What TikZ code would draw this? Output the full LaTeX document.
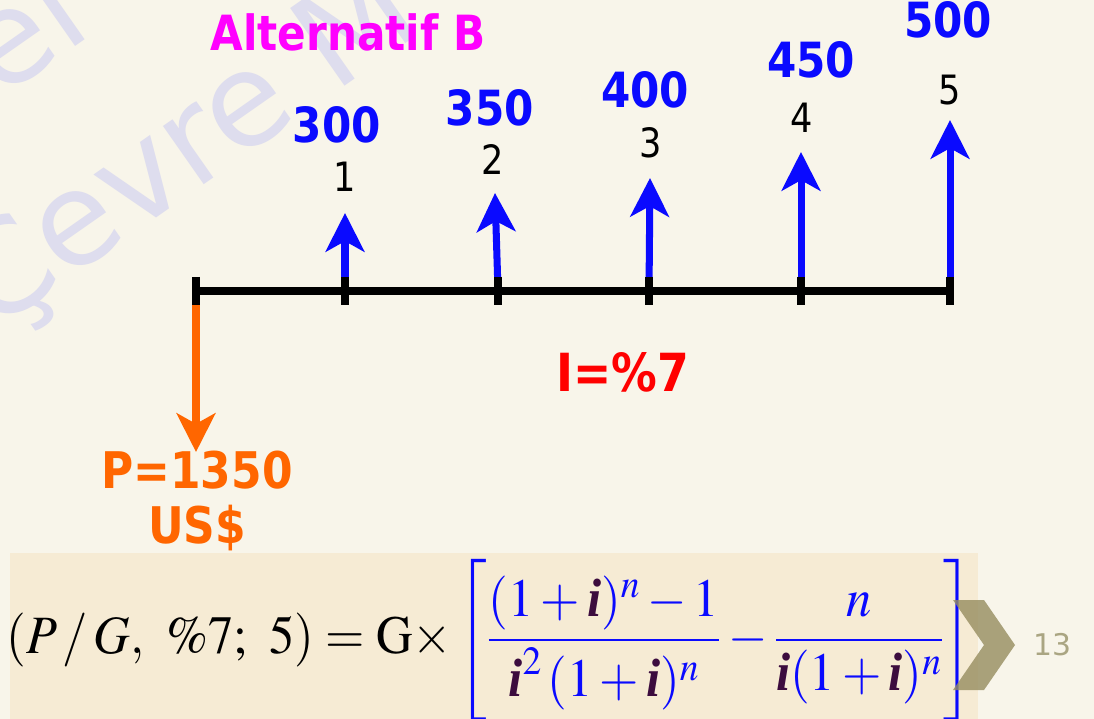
\documentclass[tikz,border=0pt]{standalone}
\usepackage{mathptmx}
\usepackage{amsmath}
\usepackage[no-math]{fontspec}
\setmainfont{DejaVu Sans}
\newfontfamily\tnr{Liberation Serif}
\usepackage{xcolor}
\usetikzlibrary{arrows.meta}
\definecolor{paper}{RGB}{248,245,234}
\definecolor{formbox}{RGB}{246,235,212}
\definecolor{wmark}{RGB}{222,221,238}
\definecolor{cashin}{RGB}{10,10,255}
\definecolor{cashout}{RGB}{255,102,0}
\definecolor{altpink}{RGB}{255,0,255}
\definecolor{ratered}{RGB}{255,0,0}
\definecolor{ipurple}{RGB}{60,12,62}
\definecolor{chev}{RGB}{150,140,95}
\definecolor{pagenr}{RGB}{170,165,130}
\newcommand{\ib}{\text{\tnr\bfseries\itshape\color{ipurple}i}}
\tikzset{
  every picture/.style={line join=round, >=Stealth},
  tall/.style={yscale=1.15, transform shape},
  axis/.style={line width=4.6pt, black},
  tickmark/.style={line width=4.2pt, black},
  inflow/.style={line width=4pt, cashin, -{Stealth[length=22pt, width=22pt, inset=6pt]}},
  outflow/.style={line width=4pt, cashout, -{Stealth[length=22pt, width=22pt, inset=6pt]}},
  amount/.style={tall, text=cashin, font=\fontsize{24}{28}\selectfont\bfseries},
  period/.style={tall, text=black, font=\fontsize{20}{24}\selectfont},
  watermark/.style={text=wmark, font=\fontsize{74}{80}\selectfont, inner sep=0pt},
  formula/.style={xscale=0.9, yscale=0.96, transform shape, font=\fontsize{32}{38}\selectfont},
}

\begin{document}
\begin{tikzpicture}[x=0.02cm,y=0.02cm]
\fill[paper] (0,0) rectangle (1094,-719);
\useasboundingbox (0,0) rectangle (1094,-719);
% watermark behind everything
\begin{scope}
\clip (0,0) rectangle (1094,-719);
\node[watermark, anchor=base west, rotate=35] (wm1) at (-216,-251) {Genel};
\node[watermark, anchor=base west, rotate=35] (wm2) at (-9,-334) {Çevre M};
\end{scope}
\fill[formbox] (10,-553) rectangle (978,-719);
% time axis points
\coordinate (t0) at (196,-291);
\coordinate (t1) at (345,-291);
\coordinate (t2) at (498,-291);
\coordinate (t3) at (649,-291);
\coordinate (t4) at (801,-291);
\coordinate (t5) at (950,-291);
% arrow tips
\coordinate (a1) at (345,-213);
\coordinate (a2) at (495,-193);
\coordinate (a3) at (650,-178);
\coordinate (a4) at (801,-152);
\coordinate (a5) at (950,-120);
\coordinate (p0) at (196,-452);
\draw[inflow] (t1)--(a1);
\draw[inflow] (t2)--(a2);
\draw[inflow] (t3)--(a3);
\draw[inflow] (t4)--(a4);
\draw[inflow] (t5)--(a5);
\draw[outflow] (196,-300)--(p0);
\draw[axis] (t0)--(t5);
\draw[tickmark] (196,-277)--(196,-305)
(345,-277)--(345,-305)
(498,-277)--(498,-305)
(649,-277)--(649,-305)
(801,-277)--(801,-305)
(950,-277)--(950,-305);
% labels
\node[period] (n1) at (345,-177) {1};
\node[period] (n2) at (493,-160) {2};
\node[period] (n3) at (651,-143) {3};
\node[period] (n4) at (802,-118) {4};
\node[period] (n5) at (950,-90) {5};
\node[amount] (v1) at (337,-125) {300};
\node[amount] (v2) at (490,-108) {350};
\node[amount] (v3) at (645,-90) {400};
\node[amount] (v4) at (811,-60) {450};
\node[amount] (v5) at (948,-20) {500};
\node[tall, text=altpink, font=\fontsize{24}{28}\selectfont\bfseries] (alt) at (348,-32) {Alternatif B};
\node[tall, text=ratered, font=\fontsize{26}{30}\selectfont\bfseries] (rate) at (623,-372) {I=\%7};
\node[tall, text=cashout, font=\fontsize{25}{29}\selectfont\bfseries, align=center] (pv) at (197,-501) {P=1350\\[-2pt]US\$};
% formula
\node[formula] (pg) at (490,-640)
{$\displaystyle (P\,/\,G,\ \%7;\ 5)=\mathrm{G}{\times}\color{cashin}\left[\frac{(1+\ib)^n-1}{\ib^2\,(1+\ib)^n}-\frac{n}{\ib(1+\ib)^n}\right]$};
\fill[chev, fill opacity=0.8] (953,-600)--(984,-600)--(1015,-645)--(984,-690)--(953,-690)--(984,-645)--cycle;
\node[text=pagenr, font=\fontsize{17}{20}\selectfont] (pnum) at (1052,-645) {13};
\end{tikzpicture}
\end{document}
